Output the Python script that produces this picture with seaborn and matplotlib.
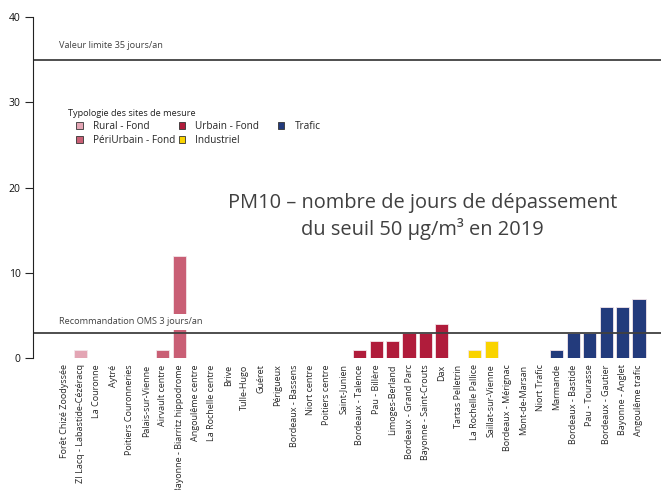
import numpy as np
import pandas as pd
import matplotlib
matplotlib.use("Agg")
import matplotlib.pyplot as plt
import seaborn as sns
from matplotlib.patches import Patch

# data
sites = ["Forêt Chizé Zoodyssée", "ZI Lacq - Labastide-Cézéracq", "La Couronne", "Aytré",
         "Poitiers Couronneries", "Palais-sur-Vienne", "Airvault centre",
         "Bayonne - Biarritz hippodrome", "Angoulême centre", "La Rochelle centre", "Brive",
         "Tulle-Hugo", "Guéret", "Périgueux", "Bordeaux - Bassens", "Niort centre",
         "Poitiers centre", "Saint-Junien", "Bordeaux - Talence", "Pau - Billère",
         "Limoges-Berland", "Bordeaux - Grand Parc", "Bayonne - Saint-Crouts", "Dax",
         "Tartas Pelletrin", "La Rochelle Pallice", "Saillat-sur-Vienne", "Bordeaux - Mérignac",
         "Mont-de-Marsan", "Niort Trafic", "Marmande", "Bordeaux - Bastide", "Pau - Tourasse",
         "Bordeaux - Gautier", "Bayonne - Anglet", "Angoulême trafic"]
jours = [0, 1, 0, 0, 0, 0, 1, 12, 0, 0, 0, 0, 0, 0, 0, 0, 0, 0, 1, 2, 2, 3, 3, 4,
         0, 1, 2, 0, 0, 0, 1, 3, 3, 6, 6, 7]
typologie = (["Rural - Fond"] * 2 + ["PériUrbain - Fond"] * 6 + ["Urbain - Fond"] * 16
             + ["Industriel"] * 3 + ["Trafic"] * 9)

types = ["Rural - Fond", "PériUrbain - Fond", "Urbain - Fond", "Industriel", "Trafic"]
couleurs = ["#E3A5B4", "#C95F75", "#B01C3B", "#F9D300", "#233B7C"]
palette = dict(zip(types, couleurs))

df = pd.DataFrame({"site": sites, "jours": jours, "type": typologie})

sns.set_style("white")
plt.rcParams['font.family'] = ['Open Sans', 'DejaVu Sans']

fig = plt.figure(figsize=(6.61, 4.90), dpi=100)
ax = fig.add_axes([0.05, 0.269, 0.95, 0.696])

sns.barplot(data=df, x="site", y="jours", hue="type", palette=palette, hue_order=types,
            dodge=False, width=0.8, saturation=1, legend=False, ax=ax,
            edgecolor="#f3e6ea", linewidth=0.6)

# seuils
ax.axhline(35, color="#404040", lw=1.3, zorder=1)
ax.axhline(3, color="#404040", lw=1.3, zorder=1)
ax.text(-0.3, 36.7, "Valeur limite 35 jours/an", fontsize=6.6, color="#404040", va="center")
ax.text(-0.3, 4.3, "Recommandation OMS 3 jours/an", fontsize=6.6, color="#404040", va="center",
        zorder=5, bbox=dict(facecolor="white", edgecolor="none", pad=2.5))

ax.text(0.62, 0.415, "PM10 – nombre de jours de dépassement\ndu seuil 50 µg/m³ en 2019",
        transform=ax.transAxes, ha="center", va="center", fontsize=14.4, color="#404040",
        linespacing=1.3)

# legende en trois colonnes
ax.text(0.055, 0.718, "Typologie des sites de mesure", transform=ax.transAxes,
        fontsize=6.6, color="#222222", va="center")
colonnes = [[0, 1], [2, 3], [4]]
x_col = [0.069, 0.232, 0.390]
for k, (idx, xc) in enumerate(zip(colonnes, x_col)):
    handles = [Patch(facecolor=couleurs[i], edgecolor="#333333", linewidth=0.6, label=types[i])
               for i in idx]
    leg = ax.legend(handles=handles, loc="upper left", bbox_to_anchor=(xc, 0.695),
                    frameon=False, fontsize=7.2, handlelength=0.65, handleheight=0.65,
                    labelspacing=0.3, handletextpad=1.0, borderpad=0, borderaxespad=0)
    if k < 2:
        ax.add_artist(leg)

ax.set_ylim(0, 40)
ax.set_xlim(-1.89, 36.34)
ax.set_yticks([0, 10, 20, 30, 40])
ax.set_xlabel("")
ax.set_ylabel("")
ax.tick_params(axis="y", left=True, length=6, width=0.8, labelsize=7.5, pad=3,
               labelcolor="#111111")
ax.tick_params(axis="x", bottom=False, labelsize=6.5, pad=1)
plt.setp(ax.get_xticklabels(), rotation=90)
for s in ["top", "right", "bottom"]:
    ax.spines[s].set_visible(False)
ax.spines["left"].set_color("#222222")
ax.spines["left"].set_linewidth(0.8)

fig.savefig("out.png", dpi=100)
